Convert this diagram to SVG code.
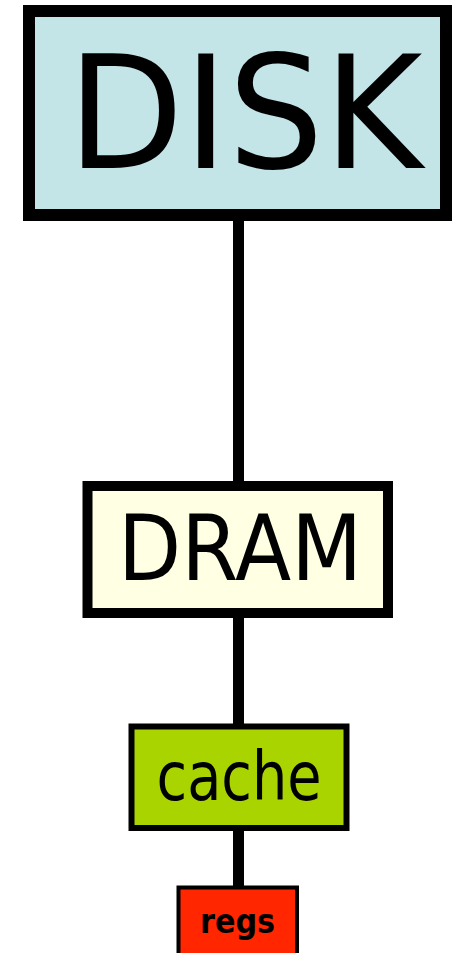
<svg xmlns="http://www.w3.org/2000/svg" width="452" height="953" viewBox="0 0 452 953">
<style>
.lbl{font-family:"Comic Sans MS","DejaVu Sans","Noto Sans",sans-serif;fill:#000;text-anchor:middle}
.box{stroke:#000}
.conn{stroke:#000;stroke-width:11;fill:none}
</style>
<rect width="452" height="953" fill="#fff"/>
<g id="connectors">
<line class="conn" x1="238.5" y1="215" x2="238.5" y2="486"/>
<line class="conn" x1="238.5" y1="613" x2="238.5" y2="727"/>
<line class="conn" x1="238.5" y1="828" x2="238.5" y2="888"/>
</g>
<g id="disk">
<rect class="box" x="29" y="11" width="417" height="204" fill="#c4e5e8" stroke-width="12"/>
<text class="lbl" x="245" y="168" font-size="156" textLength="355" lengthAdjust="spacingAndGlyphs">DISK</text>
</g>
<g id="dram">
<rect class="box" x="87.5" y="486" width="300.5" height="127" fill="#ffffe3" stroke-width="10"/>
<text class="lbl" x="240" y="580" font-size="90" textLength="244" lengthAdjust="spacingAndGlyphs">DRAM</text>
</g>
<g id="cache">
<rect class="box" x="131.5" y="726.5" width="215" height="101.5" fill="#aad400" stroke-width="6"/>
<text class="lbl" x="239" y="800" font-size="68" textLength="165" lengthAdjust="spacingAndGlyphs">cache</text>
</g>
<g id="regs">
<rect class="box" x="178.5" y="887.5" width="118.5" height="80" fill="#ff2600" stroke-width="4"/>
<text class="lbl" x="237.5" y="933" font-size="34" font-weight="bold" textLength="75" lengthAdjust="spacingAndGlyphs">regs</text>
</g>
</svg>
